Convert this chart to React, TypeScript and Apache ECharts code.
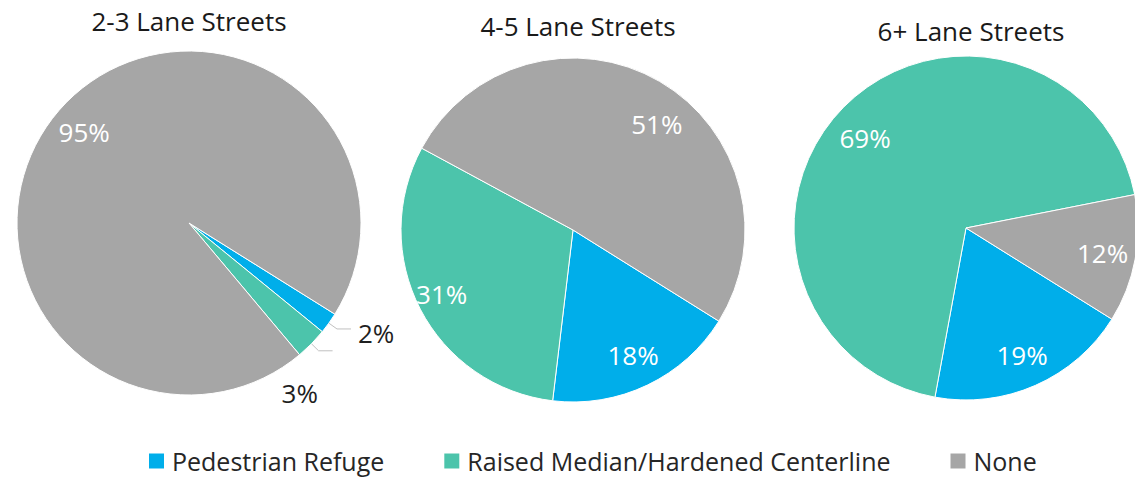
import React, { useEffect, useRef } from "react";
import * as echarts from "echarts";

const categories = ["Pedestrian Refuge", "Raised Median/Hardened Centerline", "None"];
const titles = ["2-3 Lane Streets", "4-5 Lane Streets", "6+ Lane Streets"];
const lanes23 = [2, 3, 95];
const lanes45 = [18, 31, 51];
const lanes6plus = [19, 69, 12];
const pieValues = [lanes23, lanes45, lanes6plus];

const colors = ["#00AEEA", "#4CC4AB", "#A6A6A6"];
const FONT = "Open Sans";
const centers: [number, number][] = [
  [189, 223],
  [573, 230],
  [966, 228],
];
const titleTops = [3, 8, 13];
const titleCenters = [184, 573, 966];
const R = 172;
const SMALL = 5;

export default function App() {
  const ref = useRef<HTMLDivElement>(null);
  useEffect(() => {
    if (!ref.current) return;
    const chart = echarts.init(ref.current, null, { renderer: "svg" });
    const series: any[] = [];
    pieValues.forEach((vals, i) => {
      series.push({
        type: "pie",
        name: titles[i],
        center: centers[i],
        radius: [0, R],
        startAngle: 328,
        clockwise: true,
        avoidLabelOverlap: false,
        itemStyle: { borderColor: "#ffffff", borderWidth: 1 },
        label: { show: false },
        labelLine: { show: false },
        emphasis: { disabled: true },
        labelLayout: (p: any) => {
          if (i === 0 && p.dataIndex === 1) return { dx: -56, dy: 42 };
          if (i === 0 && p.dataIndex === 0) return { dx: 2, dy: 4 };
          return {};
        },
        data: vals.map((v, j) => ({
          name: categories[j],
          value: v,
          itemStyle: { color: colors[j] },
          label:
            v < SMALL
              ? {
                  show: true,
                  position: "outside",
                  formatter: "{c}%",
                  color: "#1f1f1f",
                  fontSize: 26,
                  fontFamily: FONT,
                }
              : { show: false },
          labelLine:
            v < SMALL
              ? { show: true, length: 10, length2: 14, lineStyle: { color: "#c0c0c0", width: 1 } }
              : { show: false },
        })),
      });
    });
    pieValues.forEach((vals, i) => {
      series.push({
        type: "pie",
        name: titles[i] + " labels",
        center: centers[i],
        radius: [R * 0.58, R],
        startAngle: 328,
        clockwise: true,
        silent: true,
        avoidLabelOverlap: false,
        itemStyle: { color: "rgba(0,0,0,0)", borderWidth: 0 },
        labelLine: { show: false },
        emphasis: { disabled: true },
        labelLayout: (p: any) => {
          if (i === 1 && p.dataIndex === 2) return { dx: 14, dy: 14 };
          if (i === 1 && p.dataIndex === 1) return { dx: -8, dy: 0 };
          if (i === 2 && p.dataIndex === 1) return { dx: -2, dy: 8 };
          return {};
        },
        data: vals.map((v, j) => ({
          name: categories[j],
          value: v,
          label: {
            show: v >= SMALL,
            position: "inside",
            formatter: "{c}%",
            color: "#ffffff",
            fontSize: 26,
            fontFamily: FONT,
          },
        })),
      });
    });
    chart.setOption({
      animation: false,
      backgroundColor: "#ffffff",
      title: titles.map((t, i) => ({
        text: t,
        left: titleCenters[i],
        top: titleTops[i],
        textAlign: "center",
        textStyle: { fontFamily: FONT, fontSize: 26, fontWeight: "normal", color: "#1a1a1a" },
      })),
      legend: {
        data: categories,
        left: 142,
        top: 443,
        itemWidth: 17,
        itemHeight: 17,
        itemGap: 58,
        icon: "rect",
        textStyle: {
          fontFamily: FONT,
          fontSize: 25,
          lineHeight: 26,
          color: "#262626",
          padding: [0, 0, 0, 2],
        },
        selectedMode: false,
      },
      series,
    });
    return () => chart.dispose();
  }, []);
  return (
    <div
      ref={ref}
      style={{ position: "fixed", left: 0, top: 0, width: 1135, height: 477 }}
    />
  );
}
